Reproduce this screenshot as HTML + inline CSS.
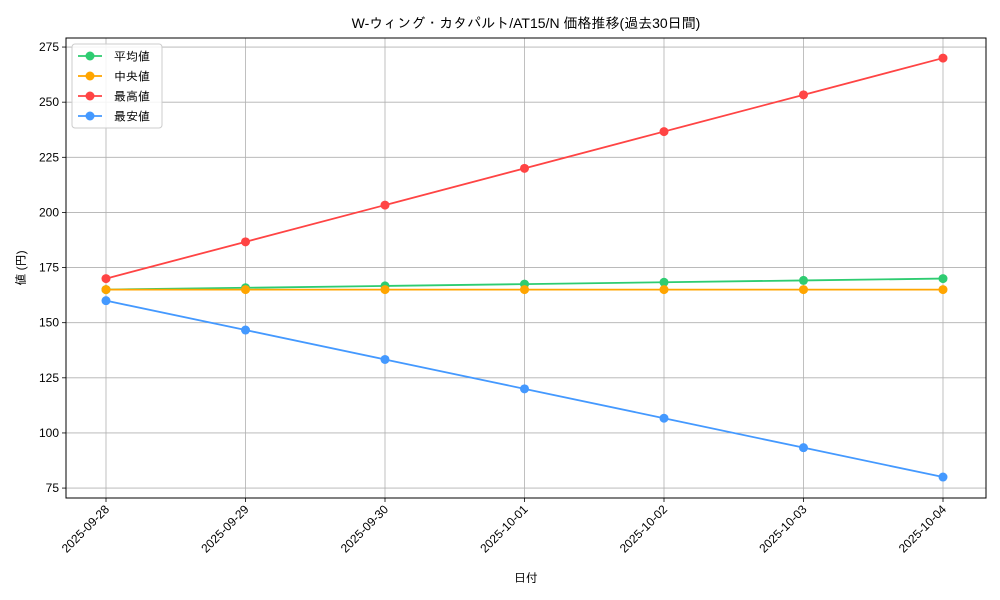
<!DOCTYPE html>
<html><head><meta charset="utf-8"><style>
body{margin:0;background:#fff;}
svg{display:block;font-family:"Liberation Sans","IPAGothic","Noto Sans CJK JP",sans-serif;}
</style></head><body>
<svg id="c" width="1000" height="600"></svg>
<script>
const categories=["2025-09-28","2025-09-29","2025-09-30","2025-10-01","2025-10-02","2025-10-03","2025-10-04"];
const avgValues=[165,165.83,166.67,167.5,168.33,169.17,170];
const medianValues=[165,165,165,165,165,165,165];
const maxValues=[170,186.67,203.33,220,236.67,253.33,270];
const minValues=[160,146.67,133.33,120,106.67,93.33,80];
const yTicks=[75,100,125,150,175,200,225,250,275];
const seriesNames=["平均値","中央値","最高値","最安値"];
const NS="http://www.w3.org/2000/svg";
const svg=document.getElementById('c');
const L=66,R=986,T=38,B=498;
const yMin=70.5,yMax=279.1;
const x0=106,x1=943;
function xs(i){return x0+(x1-x0)*i/(categories.length-1);}
function ys(v){return B-(v-yMin)/(yMax-yMin)*(B-T);}
function mk(tag,attrs,parent){const e=document.createElementNS(NS,tag);for(const k in attrs)e.setAttribute(k,attrs[k]);(parent||svg).appendChild(e);return e;}
// grid
const grid=mk('g',{});


categories.forEach((c,i)=>{mk('line',{x1:xs(i),x2:xs(i),y1:T,y2:B,stroke:'#b0b0b0','stroke-width':0.8},grid);
 mk('line',{x1:xs(i),x2:xs(i),y1:B,y2:B+4,stroke:'#000','stroke-width':0.8},grid);
 const t=mk('text',{x:xs(i)+4,y:B+12,'font-size':12,'text-anchor':'end',transform:`rotate(-45 ${xs(i)+4} ${B+12})`});
 
 
 t.textContent=c;});
yTicks.forEach(v=>{mk('line',{x1:L,x2:R,y1:ys(v),y2:ys(v),stroke:'#b0b0b0','stroke-width':0.8},grid);
 mk('line',{x1:L-4,x2:L,y1:ys(v),y2:ys(v),stroke:'#000','stroke-width':0.8},grid);
 const t=mk('text',{x:L-7,y:ys(v)+4,'font-size':12,'text-anchor':'end'});
 
 
 t.textContent=v;});
const frame=mk('rect',{x:L,y:T,width:R-L,height:B-T,fill:'none',stroke:'#000','stroke-width':1});


const colors=["#2ecc71","#ffa500","#ff4444","#4499ff"];
const data=[avgValues,medianValues,maxValues,minValues];
data.forEach((arr,s)=>{const g=mk('g',{});
 
 
 mk('polyline',{points:arr.map((v,i)=>xs(i)+','+ys(v)).join(' '),fill:'none',stroke:colors[s],'stroke-width':1.8},g);
 arr.forEach((v,i)=>{const p=mk('circle',{cx:xs(i),cy:ys(v),r:4.5,fill:colors[s]},g);
  
  });});
// legend
const lg=mk('g',{});


mk('rect',{x:72,y:44,width:90,height:84,rx:3,fill:'#fff','fill-opacity':0.85,stroke:'#ccc'},lg);
seriesNames.forEach((n,s)=>{const y=56+s*20;
 mk('line',{x1:78,x2:102,y1:y,y2:y,stroke:colors[s],'stroke-width':1.8},lg);
 mk('circle',{cx:90,cy:y,r:4.5,fill:colors[s]},lg);
 const t=mk('text',{x:114,y:y+4.5,'font-size':12},lg);
 
 
 t.textContent=n;});
const title=mk('text',{x:526,y:28,'font-size':14,'text-anchor':'middle'});


title.textContent="W-ウィング・カタパルト/AT15/N 価格推移(過去30日間)";
const xt=mk('text',{x:526,y:582,'font-size':12,'text-anchor':'middle'});


xt.textContent="日付";
const yt=mk('text',{x:25,y:268,'font-size':12,'text-anchor':'middle',transform:'rotate(-90 25 268)'});


yt.textContent="値 (円)";
</script>
</body></html>
